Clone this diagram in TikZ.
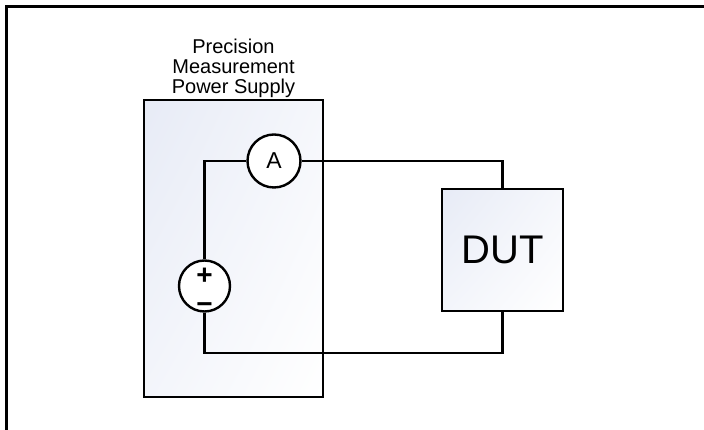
\documentclass[tikz,border=0pt]{standalone}
\usepackage{fontspec}
\setmainfont{Liberation Sans}
\usepackage{xcolor}
\usepackage{tikz}
\usetikzlibrary{positioning}
\usetikzlibrary{shadings}
\definecolor{panel}{HTML}{E7EBF6}

\begin{document}
\begin{tikzpicture}[x=1pt,y=1pt,
  box/.style={draw,line width=2.8pt,upper left=panel,upper right=panel!40!white,lower left=panel!50!white,lower right=white},
  meter/.style={draw,circle,line width=2.4pt,fill=white,inner sep=0pt},
  wire/.style={line width=2.4pt},
  sign/.style={font=\bfseries\fontsize{28}{28}\selectfont,inner sep=0pt},
  lbl/.style={font=\fontsize{20}{20}\selectfont,align=center,inner sep=0pt}]
\useasboundingbox (0,0) rectangle (704,430);
\draw [line width=2.2pt] (6.5,0) -- (6.5,423.5) -- (704,423.5);

% blocks
\node [box,minimum width=179,minimum height=297] (psu) at (233.5,181.5) {};
\node [box,minimum width=121,minimum height=122] (dut) at (502.5,180) {};
\node [font=\fontsize{40}{40}\selectfont] at (dut.center) {DUT};
\node [lbl,anchor=south] (psulbl) at (233.5,332) {Precision\\Measurement\\Power Supply};

% meters
\node [meter,minimum size=53,font=\fontsize{23}{23}\selectfont] (amm) at (274,269) {A};
\node [meter,minimum size=51] (src) at (204.5,144) {};
\node [sign] (plus) at (204.5,154) {+};
\node [sign] (minus) at (204.5,121.5) {−};

% wires
\coordinate (ret) at (502.5,77);
\draw [wire] (amm.west) -| (src.north);
\draw [wire] (amm.east) -| (dut.north);
\draw [wire] (src.south) |- (ret) -- (dut.south);
\end{tikzpicture}
\end{document}
